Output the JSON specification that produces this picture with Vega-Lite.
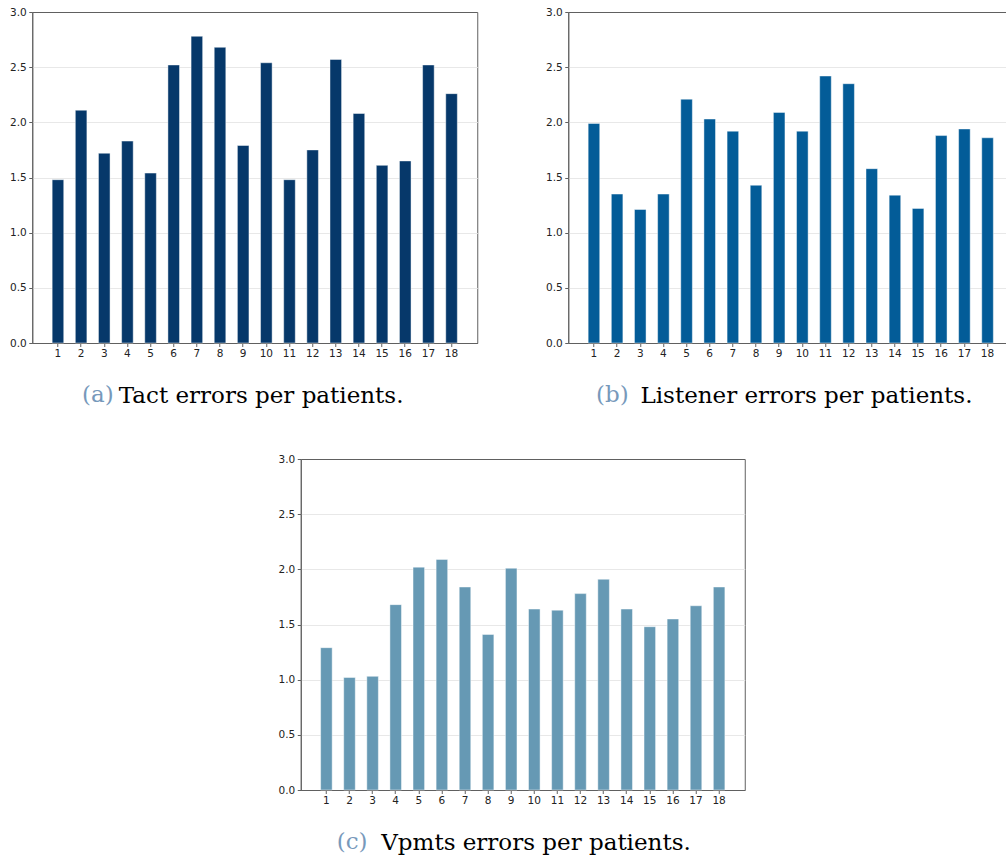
{
  "$schema": "https://vega.github.io/schema/vega-lite/v6.json",
  "padding": {"left": 9, "top": 6, "right": 0, "bottom": 0},
  "background": "white",
  "datasets": {
    "tact": [
      {"patient": 1, "errors": 1.48}, {"patient": 2, "errors": 2.11}, {"patient": 3, "errors": 1.72},
      {"patient": 4, "errors": 1.83}, {"patient": 5, "errors": 1.54}, {"patient": 6, "errors": 2.52},
      {"patient": 7, "errors": 2.78}, {"patient": 8, "errors": 2.68}, {"patient": 9, "errors": 1.79},
      {"patient": 10, "errors": 2.54}, {"patient": 11, "errors": 1.48}, {"patient": 12, "errors": 1.75},
      {"patient": 13, "errors": 2.57}, {"patient": 14, "errors": 2.08}, {"patient": 15, "errors": 1.61},
      {"patient": 16, "errors": 1.65}, {"patient": 17, "errors": 2.52}, {"patient": 18, "errors": 2.26}
    ],
    "listener": [
      {"patient": 1, "errors": 1.99}, {"patient": 2, "errors": 1.35}, {"patient": 3, "errors": 1.21},
      {"patient": 4, "errors": 1.35}, {"patient": 5, "errors": 2.21}, {"patient": 6, "errors": 2.03},
      {"patient": 7, "errors": 1.92}, {"patient": 8, "errors": 1.43}, {"patient": 9, "errors": 2.09},
      {"patient": 10, "errors": 1.92}, {"patient": 11, "errors": 2.42}, {"patient": 12, "errors": 2.35},
      {"patient": 13, "errors": 1.58}, {"patient": 14, "errors": 1.34}, {"patient": 15, "errors": 1.22},
      {"patient": 16, "errors": 1.88}, {"patient": 17, "errors": 1.94}, {"patient": 18, "errors": 1.86}
    ],
    "vpmts": [
      {"patient": 1, "errors": 1.29}, {"patient": 2, "errors": 1.02}, {"patient": 3, "errors": 1.03},
      {"patient": 4, "errors": 1.68}, {"patient": 5, "errors": 2.02}, {"patient": 6, "errors": 2.09},
      {"patient": 7, "errors": 1.84}, {"patient": 8, "errors": 1.41}, {"patient": 9, "errors": 2.01},
      {"patient": 10, "errors": 1.64}, {"patient": 11, "errors": 1.63}, {"patient": 12, "errors": 1.78},
      {"patient": 13, "errors": 1.91}, {"patient": 14, "errors": 1.64}, {"patient": 15, "errors": 1.48},
      {"patient": 16, "errors": 1.55}, {"patient": 17, "errors": 1.67}, {"patient": 18, "errors": 1.84}
    ]
  },
  "config": {
    "view": {"stroke": "#606060", "strokeWidth": 1},
    "axis": {
      "labelFont": "DejaVu Sans",
      "labelFontSize": 10.5,
      "labelColor": "#222222",
      "tickColor": "#606060",
      "tickSize": 3.5,
      "domain": true,
      "domainColor": "#606060",
      "grid": false
    },
    "axisX": {"labelAngle": 0, "labelPadding": 2},
    "axisY": {
      "grid": true,
      "gridColor": "#e8e8e8",
      "gridWidth": 1,
      "gridOpacity": {"condition": {"test": "datum.value <= 0 || datum.value >= 3", "value": 0}, "value": 1},
      "labelPadding": 2.5
    },
    "title": {
      "font": "DejaVu Serif",
      "fontSize": 23,
      "fontWeight": "normal",
      "color": "#7799bb",
      "orient": "bottom",
      "anchor": "start",
      "frame": "group",
      "baseline": "alphabetic"
    }
  },
  "spacing": 45,
  "center": true,
  "vconcat": [
    {
      "spacing": 66,
      "hconcat": [
        {
          "width": 445,
          "height": 331,
          "data": {"name": "tact"},
          "title": {"text": "(a)", "offset": -23, "dx": 49.7},
          "mark": {"type": "bar", "color": "#06386a", "stroke": "white", "strokeWidth": 1, "strokeOpacity": 0.45},
          "encoding": {
            "x": {
              "field": "patient", "type": "ordinal",
              "scale": {"paddingInner": 0.5, "paddingOuter": 0.86},
              "axis": {
                "title": "Tact errors per patients.",
                "titleFont": "DejaVu Serif", "titleFontSize": 23, "titleFontWeight": "normal",
                "titleColor": "#000000", "titleX": 86, "titleY": 59,
                "titleAlign": "left", "titleBaseline": "alphabetic", "titleAnchor": null
              }
            },
            "y": {
              "field": "errors", "type": "quantitative",
              "scale": {"domain": [0, 3], "nice": false},
              "axis": {"title": null, "values": [0, 0.5, 1, 1.5, 2, 2.5, 3], "format": ".1f"}
            }
          }
        },
        {
          "width": 445,
          "height": 331,
          "data": {"name": "listener"},
          "title": {"text": "(b)", "offset": -23, "dx": 27.7},
          "mark": {"type": "bar", "color": "#035c98", "stroke": "white", "strokeWidth": 1, "strokeOpacity": 0.45},
          "encoding": {
            "x": {
              "field": "patient", "type": "ordinal",
              "scale": {"paddingInner": 0.5, "paddingOuter": 0.86},
              "axis": {
                "title": "Listener errors per patients.",
                "titleFont": "DejaVu Serif", "titleFontSize": 23, "titleFontWeight": "normal",
                "titleColor": "#000000", "titleX": 71.7, "titleY": 59,
                "titleAlign": "left", "titleBaseline": "alphabetic", "titleAnchor": null
              }
            },
            "y": {
              "field": "errors", "type": "quantitative",
              "scale": {"domain": [0, 3], "nice": false},
              "axis": {"title": null, "values": [0, 0.5, 1, 1.5, 2, 2.5, 3], "format": ".1f"}
            }
          }
        }
      ]
    },
    {
      "width": 444,
      "height": 331,
      "data": {"name": "vpmts"},
      "title": {"text": "(c)", "offset": -23, "dx": 36},
      "mark": {"type": "bar", "color": "#6699b4", "stroke": "white", "strokeWidth": 1, "strokeOpacity": 0.45},
      "encoding": {
        "x": {
          "field": "patient", "type": "ordinal",
          "scale": {"paddingInner": 0.5, "paddingOuter": 0.86},
          "axis": {
            "title": "Vpmts errors per patients.",
            "titleFont": "DejaVu Serif", "titleFontSize": 23, "titleFontWeight": "normal",
            "titleColor": "#000000", "titleX": 80, "titleY": 59,
            "titleAlign": "left", "titleBaseline": "alphabetic", "titleAnchor": null
          }
        },
        "y": {
          "field": "errors", "type": "quantitative",
          "scale": {"domain": [0, 3], "nice": false},
          "axis": {"title": null, "values": [0, 0.5, 1, 1.5, 2, 2.5, 3], "format": ".1f"}
        }
      }
    }
  ]
}
